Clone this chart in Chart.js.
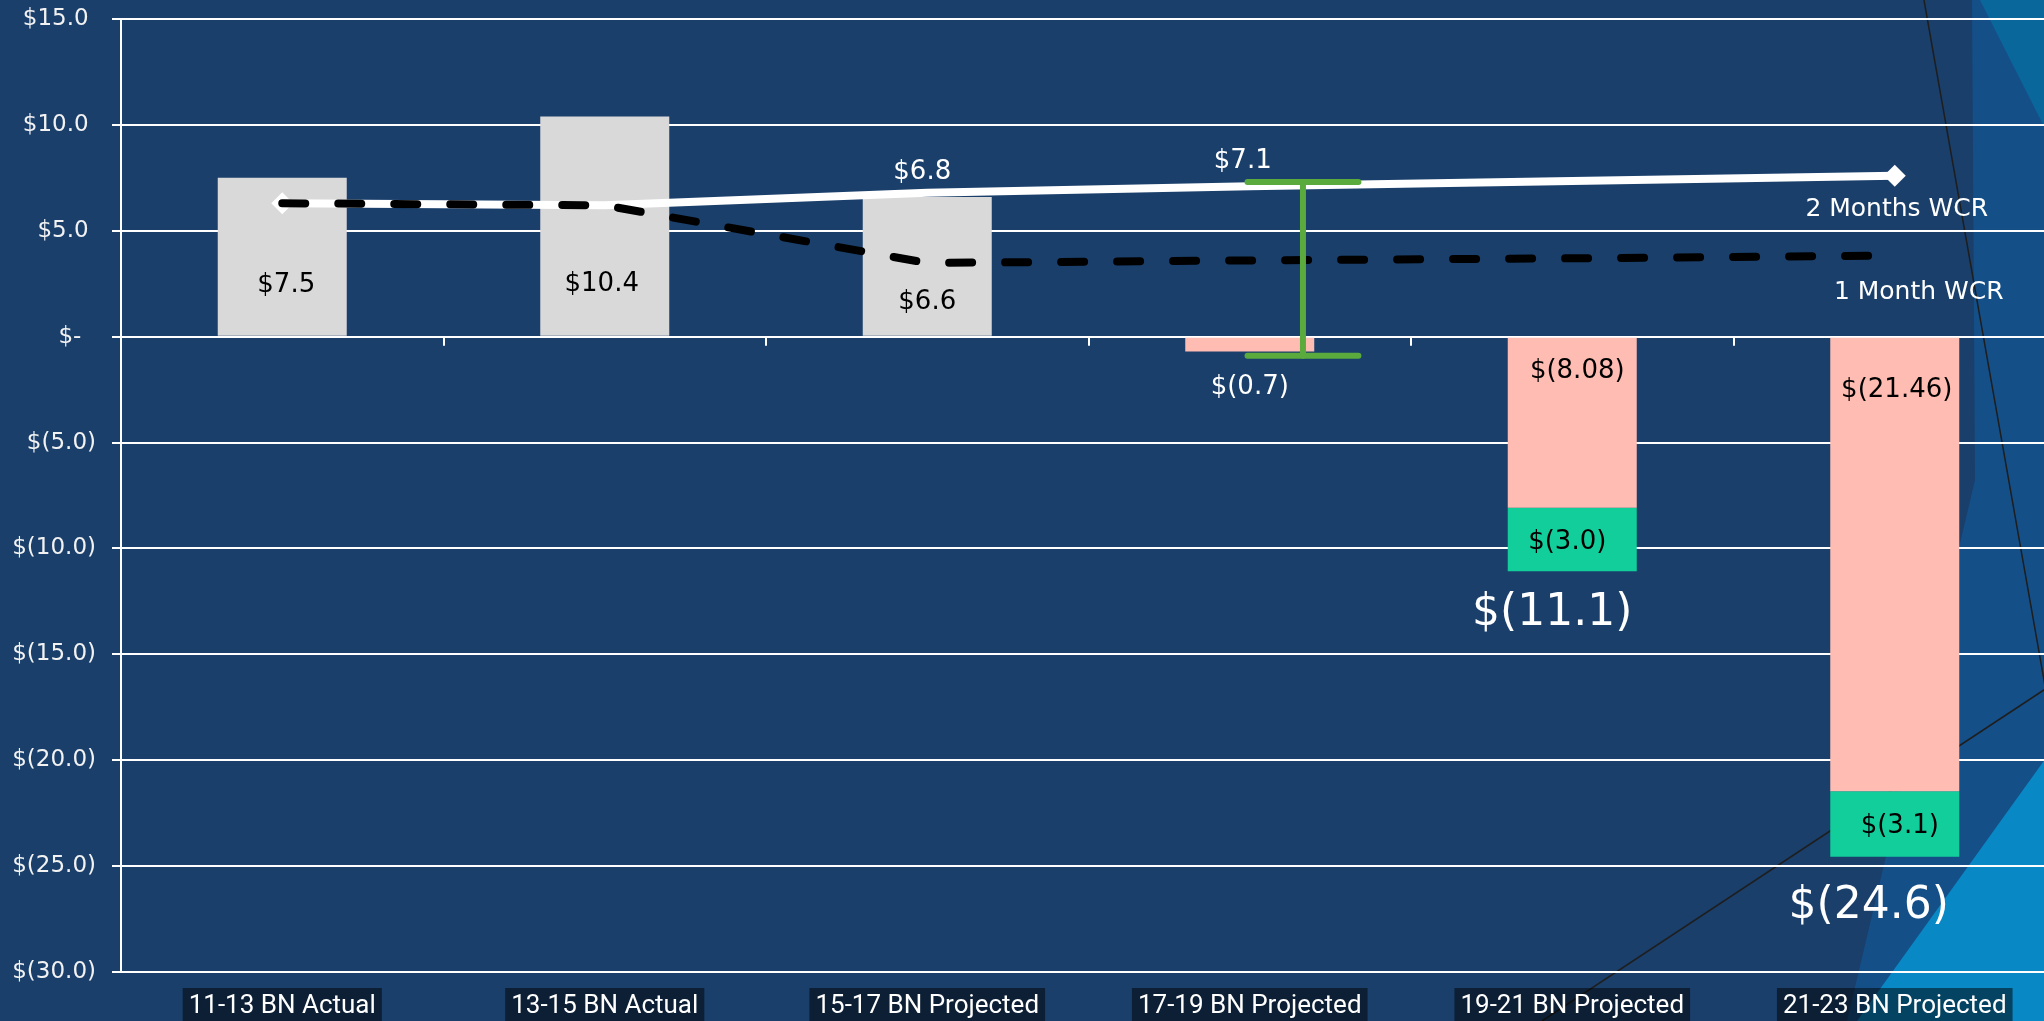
<!DOCTYPE html>
<html><head><meta charset="utf-8">
<script src="https://cdn.jsdelivr.net/npm/chart.js@4/dist/chart.umd.min.js"></script>
<style>
html,body{margin:0;padding:0;overflow:hidden;background:#1A3F6B;width:2044px;height:1021px}
#wrap{position:absolute;left:0;top:0;width:2056px;height:1021px}
</style>
</head><body><div id="wrap"><canvas id="c" width="2056" height="1021"></canvas></div>
<script>
// ---- data ----
const categories = ['11-13 BN Actual','13-15 BN Actual','15-17 BN Projected','17-19 BN Projected','19-21 BN Projected','21-23 BN Projected'];
const fundBalance = [7.5, 10.4, 6.6, null, null, null];
const projectedDeficit = [null, null, null, -0.7, -8.08, -21.46];
const reserveShortfall = [null, null, null, null, -3.0, -3.1];
const twoMonthsWCR = [6.3, 6.2, 6.8, 7.1, 7.35, 7.6];
const oneMonthWCR = [6.3, 6.2, 3.48, 3.6, 3.7, 3.83];
const gapTop = [null, null, null, 7.3, null, null];
const gapBottom = [null, null, null, -0.9, null, null];
const yTickValues = [15, 10, 5, 0, -5, -10, -15, -20, -25, -30];
const twoMonthsLabelIdx = [2, 3];

function decimalsOf(v){ const s = String(Math.abs(v)); const p = s.split('.')[1]; return Math.max(1, p ? p.length : 0); }
function fmt(v, d){ if (d === undefined) d = decimalsOf(v); if (Math.abs(v) < 1e-9) return '$-'; return v > 0 ? '$' + v.toFixed(d) : '$(' + Math.abs(v).toFixed(d) + ')'; }
function fmtAxis(v){ if (v === 0) return '$-  '; return v > 0 ? '$' + v.toFixed(1) + ' ' : '$(' + Math.abs(v).toFixed(1) + ')'; }

const FONT = '"DejaVu Sans", Verdana, sans-serif';
function drawText(ctx, text, x, cy, size, color){
  ctx.font = size + 'px ' + FONT; ctx.fillStyle = color; ctx.textAlign = 'center'; ctx.textBaseline = 'alphabetic';
  ctx.fillText(text, x, cy + 0.3645 * size);
}

const decorPlugin = {
  id: 'decor',
  beforeDraw(chart){
    const ctx = chart.ctx; ctx.save();
    ctx.fillStyle = '#1A3F6B'; ctx.fillRect(0, 0, chart.width, chart.height);
    const poly = (pts, col) => { ctx.beginPath(); ctx.moveTo(pts[0][0], pts[0][1]); for (let i = 1; i < pts.length; i++) ctx.lineTo(pts[i][0], pts[i][1]); ctx.closePath(); ctx.fillStyle = col; ctx.fill(); };
    poly([[1972,0],[2056,0],[2056,1021],[1847,1021],[1975,480]], '#154F88');
    poly([[1980,0],[2056,0],[2056,150]], '#0A679C');
    poly([[1857,1021],[2056,744],[2056,1021]], '#0888C5');
    ctx.strokeStyle = '#1E1E1E'; ctx.lineWidth = 1.5;
    ctx.beginPath(); ctx.moveTo(1924,0); ctx.lineTo(2056,748); ctx.stroke();
    ctx.beginPath(); ctx.moveTo(1542,1021); ctx.lineTo(2056,682); ctx.stroke();
    ctx.restore();
  }
};

const overlayPlugin = {
  id: 'overlay',
  afterDatasetsDraw(chart){
    const ctx = chart.ctx, xs = chart.scales.x, ys = chart.scales.y;
    const catW = xs.getPixelForValue(1) - xs.getPixelForValue(0);
    const y0 = ys.getPixelForValue(0);
    ctx.save();
    ctx.strokeStyle = '#FFFFFF'; ctx.lineWidth = 2; ctx.lineCap = 'butt';
    for (let i = 1; i < categories.length; i++){
      const x = Math.round((xs.getPixelForValue(i-1) + xs.getPixelForValue(i)) / 2);
      ctx.beginPath(); ctx.moveTo(x, y0); ctx.lineTo(x, y0 + 9); ctx.stroke();
    }
    gapTop.forEach((t, i) => {
      if (t == null) return;
      const x = xs.getPixelForValue(i) + 0.165 * catW, hw = 0.172 * catW;
      const yt = ys.getPixelForValue(t), yb = ys.getPixelForValue(gapBottom[i]);
      ctx.strokeStyle = '#5AAA3E'; ctx.lineWidth = 6; ctx.lineCap = 'round';
      ctx.beginPath(); ctx.moveTo(x, yt); ctx.lineTo(x, yb); ctx.stroke();
      ctx.beginPath(); ctx.moveTo(x - hw, yt); ctx.lineTo(x + hw, yt); ctx.stroke();
      ctx.beginPath(); ctx.moveTo(x - hw, yb); ctx.lineTo(x + hw, yb); ctx.stroke();
    });
    const metaOf = lbl => chart.getDatasetMeta(chart.data.datasets.findIndex(d => d.label === lbl));
    const fb = metaOf('Fund Balance');
    const fbDy = [-53, -54, -36], fbDx = [4, -3, 0];
    fundBalance.forEach((v, i) => { if (v == null) return; const el = fb.data[i]; drawText(ctx, fmt(v), el.x + fbDx[i], el.base + fbDy[i], 26, '#000'); });
    const pd = metaOf('Projected Deficit');
    projectedDeficit.forEach((v, i) => {
      if (v == null) return; const el = pd.data[i];
      if (reserveShortfall[i] == null) drawText(ctx, fmt(v), el.x, el.y + 33, 26, '#FFFFFF');
      else drawText(ctx, fmt(v), el.x + (i === 4 ? 5 : 2), el.base + (i === 4 ? 31 : 50), 26, '#000');
    });
    const rs = metaOf('Reserve Shortfall');
    reserveShortfall.forEach((v, i) => {
      if (v == null) return; const el = rs.data[i];
      drawText(ctx, fmt(v), el.x + (i === 4 ? -5 : 5), (el.y + el.base) / 2, 26, '#000');
      const total = projectedDeficit[i] + v;
      drawText(ctx, fmt(total, 1), el.x + (i === 4 ? -20 : -26), ys.getPixelForValue(total) + (i === 4 ? 38 : 45), 44, '#FFFFFF');
    });
    const two = metaOf('2 Months WCR');
    const tDx = {2: -5, 3: -7}, tDy = {2: -23, 3: -28};
    twoMonthsLabelIdx.forEach(i => { const p = two.data[i]; drawText(ctx, fmt(twoMonthsWCR[i], 1), p.x + tDx[i], p.y + tDy[i], 26, '#FFFFFF'); });
    const tl = two.data[two.data.length - 1];
    drawText(ctx, '2 Months WCR', tl.x + 2, tl.y + 31, 25, '#FFFFFF');
    const one = metaOf('1 Month WCR');
    const ol = one.data[one.data.length - 1];
    drawText(ctx, '1 Month WCR', ol.x + 24, ol.y + 34, 25, '#FFFFFF');
    ctx.restore();
  }
};

new Chart(document.getElementById('c'), {
  type: 'bar',
  data: {
    labels: categories,
    datasets: [
      { type: 'line', label: '1 Month WCR', data: oneMonthWCR, stack: 'wcr1', order: 0, borderColor: '#000000', borderWidth: 8, borderDash: [23, 33], borderCapStyle: 'round', pointRadius: 0, fill: false, tension: 0 },
      { type: 'line', label: '2 Months WCR', data: twoMonthsWCR, stack: 'wcr2', order: 1, borderColor: '#FFFFFF', borderWidth: 8, pointStyle: 'rectRot', pointRadius: [11, 0, 0, 0, 0, 11], pointBackgroundColor: '#FFFFFF', pointBorderWidth: 0, fill: false, tension: 0 },
      { label: 'Fund Balance', data: fundBalance, backgroundColor: '#D9D9D9', order: 2, stack: 'bal' },
      { label: 'Projected Deficit', data: projectedDeficit, backgroundColor: '#FFBCB2', order: 3, stack: 'bal' },
      { label: 'Reserve Shortfall', data: reserveShortfall, backgroundColor: '#12CE9B', order: 4, stack: 'bal' }
    ]
  },
  options: {
    responsive: false, animation: false, events: [],
    layout: { autoPadding: false, padding: { top: 19, right: 0, bottom: 0, left: 0 } },
    datasets: { bar: { categoryPercentage: 1, barPercentage: 0.4 } },
    plugins: { legend: { display: false }, tooltip: { enabled: false } },
    scales: {
      x: {
        stacked: true,
        grid: { display: false, drawTicks: false },
        border: { display: false },
        ticks: { color: '#FFFFFF', font: { family: 'Roboto', size: 26 }, padding: 19, maxRotation: 0, autoSkip: false,
                 showLabelBackdrop: true, backdropColor: 'rgba(0,0,0,0.5)', backdropPadding: { top: 3, bottom: 3, left: 6, right: 6 } },
        afterFit(s){ s.height = 49; s.paddingLeft = 0; s.paddingRight = 0; }
      },
      y: {
        stacked: true, min: -30, max: 15,
        afterBuildTicks(s){ s.ticks = yTickValues.map(v => ({ value: v })); },
        ticks: { color: '#F2F2F2', font: { family: 'DejaVu Sans', size: 23 }, padding: 16, callback: v => fmtAxis(v) },
        grid: { color: '#FFFFFF', lineWidth: 2, tickLength: 9, tickColor: '#FFFFFF' },
        border: { color: '#FFFFFF', width: 2 },
        afterFit(s){ s.width = 121; s.paddingTop = 0; s.paddingBottom = 0; }
      }
    }
  },
  plugins: [decorPlugin, overlayPlugin]
});
</script></body></html>
